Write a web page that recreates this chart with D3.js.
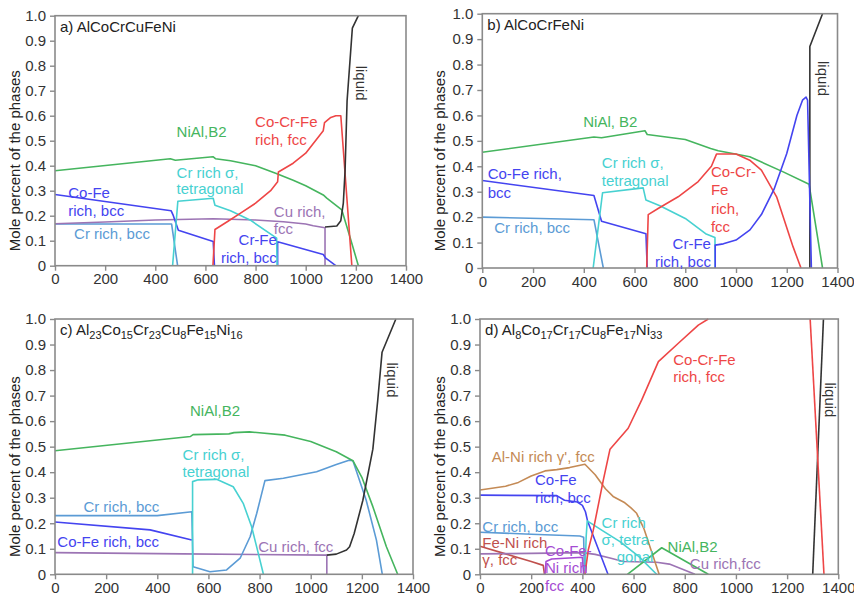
<!DOCTYPE html>
<html><head><meta charset="utf-8">
<script src="https://cdn.jsdelivr.net/npm/d3@7"></script>
<style>
body{margin:0;background:#fff}
svg{display:block}
text{font-family:Arial,"Liberation Sans",sans-serif}
</style>
</head><body>
<svg id="chart" width="854" height="600"></svg>
<script>
// ---------- tick values ----------
const xTicks = [0, 200, 400, 600, 800, 1000, 1200, 1400];
const yTicks = [0, 0.1, 0.2, 0.3, 0.4, 0.5, 0.6, 0.7, 0.8, 0.9, 1.0];
const yTickLabels = ["0", "0.1", "0.2", "0.3", "0.4", "0.5", "0.6", "0.7", "0.8", "0.9", "1.0"];
const yTitle = "Mole percent of the phases";

// ---------- panel a) AlCoCrCuFeNi ----------
const aNiAl = [[0,0.38],[460,0.428],[480,0.422],[630,0.436],[640,0.428],[700,0.42],[800,0.40],[880,0.37],[950,0.342],[1000,0.32],[1070,0.283],[1084,0.27],[1144,0.223],[1175,0.12],[1210,0]];
const aCoFeBcc = [[0,0.285],[463,0.22],[472,0.2],[492,0.142],[631,0.097],[636,0]];
const aCrFeBcc = [[888,0],[888,0.096],[1070,0.045],[1080,0.03],[1120,0]];
const aCrBcc = [[0,0.167],[465,0.167],[489,0]];
const aCuFcc = [[0,0.168],[200,0.175],[400,0.183],[631,0.188],[700,0.186],[800,0.183],[911,0.176],[1000,0.167],[1030,0.16],[1077,0.152],[1077,0]];
const aSigma = [[469,0],[490,0.258],[631,0.27],[638,0.242],[700,0.22],[778,0.183],[884,0.11],[886,0]];
const aCoCrFeFcc = [[630,0],[638,0.145],[690,0.178],[740,0.21],[800,0.25],[860,0.3],[888,0.336],[891,0.375],[950,0.41],[1000,0.45],[1070,0.54],[1075,0.572],[1100,0.593],[1120,0.6],[1140,0.6],[1184,0]];
const aLiquid = [[1077,0.155],[1124,0.159],[1140,0.18],[1150,0.25],[1157,0.38],[1165,0.66],[1186,0.95],[1210,1.0]];

// ---------- panel b) AlCoCrFeNi ----------
const bNiAl = [[0,0.455],[440,0.515],[470,0.512],[641,0.54],[650,0.525],[800,0.505],[900,0.47],[930,0.461],[1054,0.4375],[1186,0.378],[1288,0.329],[1341,0]];
const bCoFeBcc = [[0,0.344],[440,0.285],[470,0.184],[645,0.135],[650,0]];
const bCrFeBcc = [[918,0],[918,0.09],[950,0.095],[1000,0.11],[1055,0.15],[1100,0.21],[1150,0.31],[1200,0.45],[1240,0.6],[1262,0.66],[1276,0.672],[1282,0.66],[1297,0]];
const bCrBcc = [[0,0.2],[440,0.19],[477,0]];
const bSigma = [[437,0],[474,0.296],[634,0.315],[645,0.267],[700,0.245],[800,0.195],[880,0.135],[917,0.12],[918,0]];
const bCoCrFeFcc = [[648,0],[654,0.21],[693,0.234],[772,0.28],[851,0.34],[903,0.40],[923,0.448],[1000,0.448],[1054,0.424],[1100,0.385],[1160,0.28],[1225,0.083],[1256,0]];
const bLiquid = [[1291,0],[1291,0.871],[1341,1.0]];

// ---------- panel c) Al23Co15Cr23Cu8Fe15Ni16 ----------
const cNiAl = [[0,0.484],[530,0.54],[540,0.547],[680,0.55],[700,0.555],[760,0.558],[900,0.545],[1000,0.52],[1100,0.48],[1165,0.445],[1200,0.38],[1243,0.265],[1296,0.108],[1340,0]];
const cCrBcc = [[0,0.23],[400,0.23],[535,0.245],[540,0.03],[606,0.01],[671,0.017],[724,0.063],[763,0.147],[789,0.239],[821,0.367],[893,0.376],[1023,0.402],[1100,0.43],[1150,0.447],[1165,0.445],[1217,0.29],[1257,0.134],[1280,0]];
const cSigma = [[538,0],[538,0.363],[560,0.37],[632,0.372],[697,0.343],[736,0.278],[769,0.186],[795,0.082],[815,0]];
const cCoFeBcc = [[0,0.205],[372,0.174],[535,0.134]];
const cCuFcc = [[0,0.085],[500,0.08],[1063,0.075],[1063,0]];
const cLiquid = [[1063,0.075],[1100,0.079],[1140,0.095],[1152,0.108],[1170,0.16],[1204,0.29],[1243,0.49],[1262,0.68],[1279,0.87],[1333,1.0]];

// ---------- panel d) Al8Co17Cr17Cu8Fe17Ni33 ----------
const dCoCrFeFcc = [[410,0],[423,0.095],[442,0.17],[482,0.37],[508,0.49],[579,0.572],[632,0.683],[697,0.833],[775,0.905],[853,0.976],[892,1.0]];
const dCoCrFeFccHigh = [[1290,1.0],[1344,0]];
const dLiquid = [[1300,0],[1342,1.0]];
const dAlNiGamma1 = [[0,0.33],[100,0.345],[150,0.36],[200,0.385],[254,0.405],[300,0.41],[350,0.418],[410,0.431],[450,0.39],[490,0.335],[520,0.305],[566,0.28],[590,0.26],[612,0.239],[640,0.18],[664,0.108],[700,0]];
const dCoFeBcc = [[0,0.31],[300,0.308],[330,0.29],[380,0.283],[400,0.27],[412,0.245],[420,0.21],[500,0]];
const dCrBcc = [[0,0.165],[200,0.157],[390,0.15],[405,0.145],[408,0]];
const dFeNiGamma = [[0,0.11],[100,0.08],[200,0.05],[247,0.035],[252,0]];
const dCuFcc = [[0,0.08],[200,0.082],[400,0.085],[450,0.078],[508,0.064],[560,0.05],[690,0.047],[740,0.04],[840,0]];
const dCoFeNiFcc = [[254,0],[258,0.05],[280,0.06],[400,0.067],[405,0]];
const dSigma = [[410,0],[415,0.15],[419,0.209],[480,0.17],[547,0.128],[620,0.07],[690,0]];
const dNiAl = [[576,0],[710,0.104],[892,0]];

// ---------- colours ----------
const C = {green:"#45b55e", blue:"#4444f0", steel:"#5b9bd5", cyan:"#47d1d1", red:"#ee4646",
           purple:"#9c74b4", black:"#333333", brown:"#c48a55", feni:"#c0504d", violet:"#a54bd3", text:"#222"};

const panels = [
  { box:{left:55, right:406, top:15.7, bottom:265.7}, titleX:15,
    title:[["a) AlCoCrCuFeNi",0]],
    series:[[aCrBcc,C.steel],[aCuFcc,C.purple],[aNiAl,C.green],[aCoFeBcc,C.blue],[aCrFeBcc,C.blue],[aSigma,C.cyan],[aCoCrFeFcc,C.red],[aLiquid,C.black]],
    labels:[
      {t:"NiAl,B2",x:485,y:0.536,c:C.green},
      {t:"Co-Fe",x:53,y:0.292,c:C.blue},{t:"rich, bcc",x:53,y:0.219,c:C.blue},
      {t:"Cr rich, bcc",x:76,y:0.126,c:C.steel},
      {t:"Cr rich σ,",x:485,y:0.37,c:C.cyan},{t:"tetragonal",x:485,y:0.307,c:C.cyan},
      {t:"Co-Cr-Fe",x:798,y:0.576,c:C.red},{t:"rich, fcc",x:798,y:0.503,c:C.red},
      {t:"Cu rich,",x:873,y:0.216,c:C.purple},{t:"fcc",x:873,y:0.146,c:C.purple},
      {t:"Cr-Fe",x:885,y:0.103,c:C.blue,a:"end"},{t:"rich, bcc",x:885,y:0.03,c:C.blue,a:"end"},
      {t:"liquid",x:1223,y:0.73,c:C.black,r:true}
    ]},
  { box:{left:482.3, right:837.5, top:13.7, bottom:268}, titleX:440,
    title:[["b) AlCoCrFeNi",0]],
    series:[[bCrBcc,C.steel],[bNiAl,C.green],[bCoFeBcc,C.blue],[bSigma,C.cyan],[bCoCrFeFcc,C.red],[bLiquid,C.black],[bCrFeBcc,C.blue]],
    labels:[
      {t:"NiAl, B2",x:398,y:0.576,c:C.green},
      {t:"Co-Fe rich,",x:21,y:0.372,c:C.blue},{t:"bcc",x:21,y:0.297,c:C.blue},
      {t:"Cr rich, bcc",x:47,y:0.16,c:C.steel},
      {t:"Cr rich σ,",x:471,y:0.415,c:C.cyan},{t:"tetragonal",x:471,y:0.345,c:C.cyan},
      {t:"Co-Cr-",x:901,y:0.378,c:C.red},{t:"Fe",x:901,y:0.306,c:C.red},{t:"rich,",x:901,y:0.234,c:C.red},{t:"fcc",x:901,y:0.162,c:C.red},
      {t:"Cr-Fe",x:901,y:0.096,c:C.blue,a:"end"},{t:"rich, bcc",x:901,y:0.024,c:C.blue,a:"end"},
      {t:"liquid",x:1344,y:0.745,c:C.black,r:true}
    ]},
  { box:{left:55, right:413, top:319, bottom:574.3}, titleX:15,
    title:[["c) Al",0],["23",1],["Co",0],["15",1],["Cr",0],["23",1],["Cu",0],["8",1],["Fe",0],["15",1],["Ni",0],["16",1]],
    series:[[cCuFcc,C.purple],[cCoFeBcc,C.blue],[cCrBcc,C.steel],[cSigma,C.cyan],[cNiAl,C.green],[cLiquid,C.black]],
    labels:[
      {t:"NiAl,B2",x:528,y:0.641,c:C.green},
      {t:"Cr rich σ,",x:499,y:0.467,c:C.cyan},{t:"tetragonal",x:499,y:0.402,c:C.cyan},
      {t:"Cr rich, bcc",x:111,y:0.265,c:C.steel},
      {t:"Co-Fe rich, bcc",x:9,y:0.128,c:C.blue},
      {t:"Cu rich, fcc",x:795,y:0.108,c:C.purple},
      {t:"liquid",x:1317,y:0.761,c:C.black,r:true}
    ]},
  { box:{left:480, right:838.3, top:319, bottom:574.3}, titleX:440,
    title:[["d) Al",0],["8",1],["Co",0],["17",1],["Cr",0],["17",1],["Cu",0],["8",1],["Fe",0],["17",1],["Ni",0],["33",1]],
    series:[[dCrBcc,C.steel],[dFeNiGamma,C.feni],[dCuFcc,C.purple],[dCoFeNiFcc,C.violet],[dAlNiGamma1,C.brown],[dCoFeBcc,C.blue],[dSigma,C.cyan],[dNiAl,C.green],[dCoCrFeFcc,C.red],[dLiquid,C.black],[dCoCrFeFccHigh,C.red]],
    labels:[
      {t:"Co-Cr-Fe",x:755,y:0.842,c:C.red},{t:"rich, fcc",x:755,y:0.774,c:C.red},
      {t:"Al-Ni rich γ', fcc",x:46,y:0.461,c:C.brown},
      {t:"Co-Fe",x:215,y:0.369,c:C.blue},{t:"rich, bcc",x:215,y:0.298,c:C.blue},
      {t:"Cr rich, bcc",x:9,y:0.186,c:C.steel},
      {t:"Fe-Ni rich",x:9,y:0.125,c:C.feni},{t:"γ, fcc",x:9,y:0.056,c:C.feni},
      {t:"Co-Fe-",x:254,y:0.091,c:C.violet},{t:"Ni rich",x:254,y:0.027,c:C.violet},{t:"fcc",x:254,y:-0.046,c:C.violet},
      {t:"Cr rich",x:475,y:0.202,c:C.cyan},{t:"σ, tetra-",x:475,y:0.134,c:C.cyan},{t:"gonal",x:534,y:0.069,c:C.cyan},
      {t:"NiAl,B2",x:733,y:0.108,c:C.green},
      {t:"Cu rich,fcc",x:820,y:0.043,c:C.purple},
      {t:"liquid",x:1367,y:0.683,c:C.black,r:true}
    ]}
];

const svg = d3.select("#chart");
const FS = 15;

panels.forEach(p => {
  const b = p.box;
  const x = d3.scaleLinear().domain([0,1400]).range([b.left,b.right]);
  const y = d3.scaleLinear().domain([0,1]).range([b.bottom,b.top]);
  const g = svg.append("g");

  // series
  const line = d3.line().x(d=>x(d[0])).y(d=>y(d[1]));
  p.series.forEach(([data,color]) => {
    g.append("path").attr("d", line(data)).attr("fill","none")
      .attr("stroke", color).attr("stroke-width",1.6).attr("stroke-linejoin","round");
  });

  // frame
  g.append("rect").attr("x",b.left).attr("y",b.top)
    .attr("width",b.right-b.left).attr("height",b.bottom-b.top)
    .attr("fill","none").attr("stroke","#8a8a8a").attr("stroke-width",1.6);

  // axes
  const xa = g.append("g").attr("transform",`translate(0,${b.bottom})`)
    .call(d3.axisBottom(x).tickValues(xTicks).tickFormat(d3.format("d")).tickSize(5).tickPadding(3));
  const ya = g.append("g").attr("transform",`translate(${b.left},0)`)
    .call(d3.axisLeft(y).tickValues(yTicks).tickFormat((d,i)=>yTickLabels[i]).tickSize(5).tickPadding(4));
  [xa,ya].forEach(a => {
    a.select(".domain").remove();
    a.selectAll(".tick line").attr("stroke","#8a8a8a").attr("stroke-width",1.4);
    a.selectAll(".tick text").attr("fill","#333").style("font-size",FS+"px").style("font-family","Arial, 'Liberation Sans', sans-serif");
  });

  // y title
  g.append("text").attr("transform",`translate(${p.titleX},${(b.top+b.bottom)/2+20}) rotate(-90)`)
    .attr("text-anchor","middle").attr("dy","0.35em").attr("fill","#222")
    .style("font-size",FS+"px").text(yTitle);

  // panel title
  const t = g.append("text").attr("x", x(20)).attr("y", y(0.956)).attr("dy","0.35em")
    .attr("fill","#222").style("font-size",FS+"px");
  let sub = false;
  p.title.forEach(([s,isSub]) => {
    const ts = t.append("tspan").text(s);
    if (isSub && !sub) { ts.attr("dy",4).style("font-size","11px"); sub = true; }
    else if (isSub) { ts.style("font-size","11px"); }
    else if (!isSub && sub) { ts.attr("dy",-4); sub = false; }
  });

  // labels
  p.labels.forEach(l => {
    const tx = g.append("text").attr("fill", l.c).style("font-size",FS+"px").attr("dy","0.35em").text(l.t);
    if (l.r) {
      tx.attr("text-anchor","middle").attr("transform",`translate(${x(l.x)},${y(l.y)}) rotate(90)`);
    } else {
      tx.attr("x", x(l.x)).attr("y", y(l.y)).attr("text-anchor", l.a || "start");
    }
  });
});
</script>
</body></html>
